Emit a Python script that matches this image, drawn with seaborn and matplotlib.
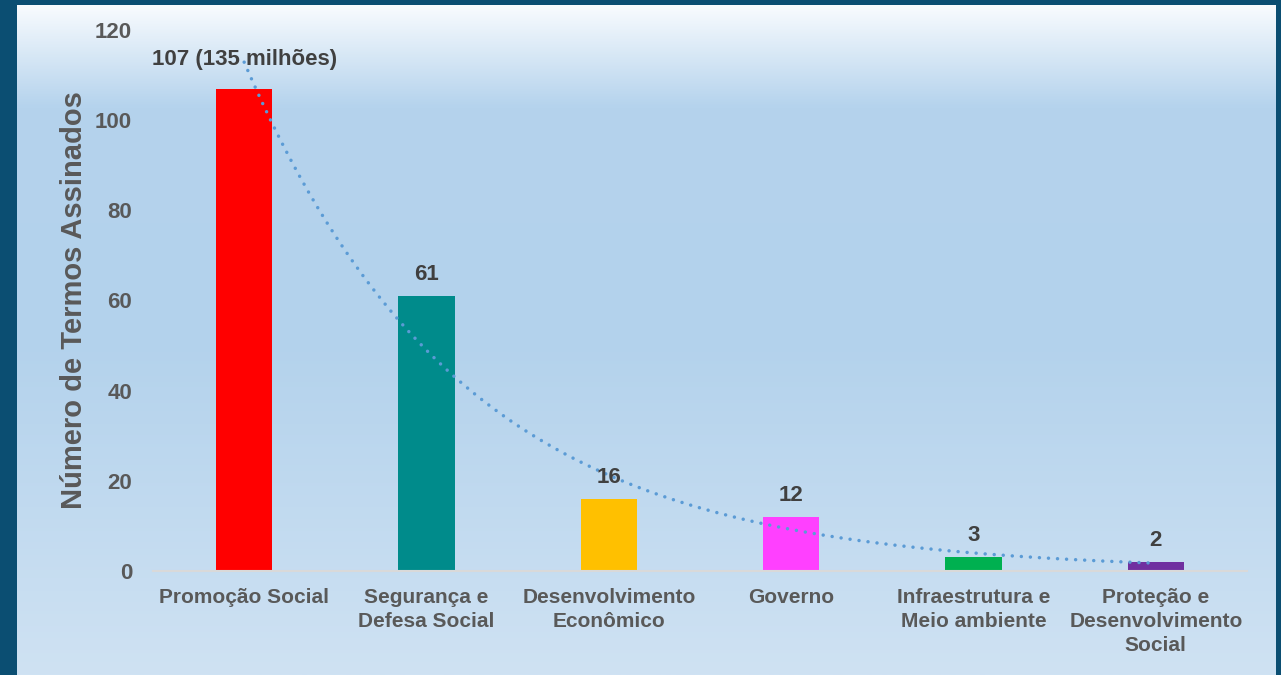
import matplotlib
matplotlib.use("Agg")
import matplotlib.pyplot as plt
from matplotlib.colors import LinearSegmentedColormap
import numpy as np
import pandas as pd
import seaborn as sns

categorias = ["Promoção Social", "Segurança e\nDefesa Social", "Desenvolvimento\nEconômico",
              "Governo", "Infraestrutura e\nMeio ambiente", "Proteção e\nDesenvolvimento\nSocial"]
termos = [107, 61, 16, 12, 3, 2]
rotulos = ["107 (135 milhões)", "61", "16", "12", "3", "2"]
cores = ["#ff0000", "#008b8b", "#ffc000", "#ff40ff", "#00b050", "#7030a0"]
y_ticks = [0, 20, 40, 60, 80, 100, 120]

sns.set_style("white")
plt.rcParams["font.family"] = ["Liberation Sans", "DejaVu Sans"]
plt.rcParams["font.weight"] = "bold"

fig = plt.figure(figsize=(12.81, 6.75), dpi=100)
fig.patch.set_facecolor("#0b4e72")

# painel com degradê
bg = fig.add_axes([17 / 1281, 0, 1259 / 1281, 1 - 5 / 675])
grad_cmap = LinearSegmentedColormap.from_list(
    "painel", [(0, "#f8fbfe"), (0.15, "#b5d3ed"), (0.5, "#b3d2ec"), (1, "#cfe2f3")])
bg.imshow(np.linspace(0, 1, 256).reshape(-1, 1), aspect="auto", cmap=grad_cmap,
          extent=[0, 1, 0, 1])
bg.set_axis_off()

ax = fig.add_axes([153 / 1281, 1 - 571 / 675, 1094 / 1281, 541 / 675])
ax.patch.set_alpha(0)

df = pd.DataFrame({"categoria": categorias, "termos": termos})
sns.barplot(data=df, x="categoria", y="termos", hue="categoria", palette=cores,
            width=0.31, legend=False, ax=ax, saturation=1, linewidth=0)

# linha de tendência exponencial
x = np.arange(len(termos))
b, a = np.polyfit(x, np.log(termos), 1)
xs = np.linspace(0, len(termos) - 1, 200)
ax.plot(xs, np.exp(a + b * xs), color="#5b9bd5", lw=2.5, linestyle=(0, (0.01, 2.6)),
        dash_capstyle="round", zorder=3)

for i, (v, r) in enumerate(zip(termos, rotulos)):
    if i == 0:
        ax.annotate(r, (i, v), xytext=(0, 21), textcoords="offset points", ha="center",
                    va="center", fontsize=16, fontweight="bold", color="#404040")
    else:
        ax.annotate(r, (i, v), xytext=(0, 8), textcoords="offset points", ha="center",
                    va="bottom", fontsize=16, fontweight="bold", color="#404040")

ax.set_xlim(-0.5, len(termos) - 0.5)
ax.set_ylim(0, 120)
ax.set_yticks(y_ticks)
ax.tick_params(axis="both", length=0, colors="#595959", labelsize=15)
ax.tick_params(axis="y", pad=15, labelsize=16)
ax.tick_params(axis="x", pad=12)
for lab in ax.get_xticklabels() + ax.get_yticklabels():
    lab.set_fontweight("bold")
for lab in ax.get_xticklabels():
    lab.set_linespacing(1.35)
ax.set_xlabel("")
ax.set_ylabel("Número de Termos Assinados", fontsize=21, fontweight="bold",
              color="#595959", labelpad=5)
for s in ["top", "right", "left"]:
    ax.spines[s].set_visible(False)
ax.spines["bottom"].set_color("#d9d9d9")
ax.spines["bottom"].set_linewidth(1.5)

fig.savefig("out.png", dpi=100, facecolor=fig.get_facecolor())
